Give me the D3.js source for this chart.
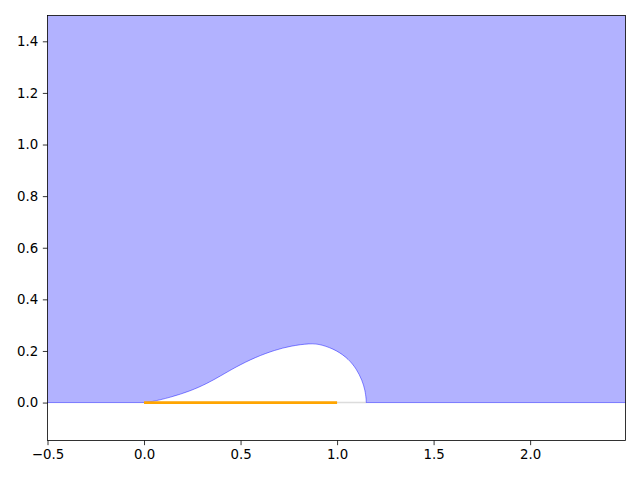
<!DOCTYPE html>
<html><head><meta charset="utf-8">
<script src="https://cdn.jsdelivr.net/npm/d3@7"></script>
<style>body{margin:0;background:#fff}svg text{font-family:"DejaVu Sans",sans-serif;font-size:13.33px;fill:#000}</style>
</head><body><svg id="c" width="640" height="480"></svg>
<script>
// Bubble contour (x, y)
const bubbleX = [0.0, 0.034, 0.137, 0.241, 0.327, 0.396, 0.473, 0.577, 0.680, 0.758, 0.861, 0.920, 1.000, 1.060, 1.100, 1.130, 1.145, 1.151, 1.151];
const bubbleY = [0.0, 0.002, 0.020, 0.045, 0.074, 0.103, 0.137, 0.176, 0.204, 0.219, 0.230, 0.225, 0.202, 0.168, 0.131, 0.086, 0.048, 0.012, 0.0];
const plateX = [0.0, 1.0];
const plateY = [0.0, 0.0];
const baseX = [0.0, 1.151];
const xTicks = [-0.5, 0.0, 0.5, 1.0, 1.5, 2.0];
const yTicks = [0.0, 0.2, 0.4, 0.6, 0.8, 1.0, 1.2, 1.4];
const xDomain = [-0.5, 2.494];
const yDomain = [-0.147, 1.5];

const svg = d3.select("#c");
const L = 47.5, R = 625.5, T = 15.5, B = 440.5;
const x = d3.scaleLinear().domain(xDomain).range([L, R]);
const y = d3.scaleLinear().domain(yDomain).range([B, T]);

svg.append("defs").append("clipPath").attr("id","clip")
  .append("rect").attr("x",L).attr("y",T).attr("width",R-L).attr("height",B-T);
const g = svg.append("g").attr("clip-path","url(#clip)");

const line = d3.line().x(d=>x(d[0])).y(d=>y(d[1])).curve(d3.curveLinear);
const bubblePath = d3.line().x(d=>x(d[0])).y(d=>y(d[1])).curve(d3.curveBasis)(bubbleX.map((v,i)=>[v,bubbleY[i]]));
const dFill = "M" + x(-1) + "," + y(0) + "L" + bubblePath.slice(1) +
  "L" + x(3) + "," + y(0) + "L" + x(3) + "," + y(2) + "L" + x(-1) + "," + y(2) + "Z";

// light grey base line under bubble
g.append("line").attr("x1",x(baseX[0])).attr("x2",x(baseX[1])).attr("y1",y(0)).attr("y2",y(0))
  .attr("stroke","#dcdcdc").attr("stroke-width",1.5);

g.append("path").attr("d", dFill).attr("fill","rgba(0,0,255,0.3)").attr("stroke","rgba(0,0,255,0.45)").attr("stroke-width",1);

// orange plate
g.append("path").attr("d", line(plateX.map((v,i)=>[v,plateY[i]])))
  .attr("stroke","orange").attr("stroke-width",2.7).attr("fill","none").attr("stroke-linecap","butt");

// axes
const fmt = d => d3.format(".1f")(d).replace("-", "\u2212");
const xa = svg.append("g").attr("transform",`translate(0,${B})`).call(d3.axisBottom(x).tickValues(xTicks).tickFormat(fmt).tickSizeOuter(0).tickSize(4.67).tickPadding(4.67));
const ya = svg.append("g").attr("transform",`translate(${L},0)`).call(d3.axisLeft(y).tickValues(yTicks).tickFormat(fmt).tickSizeOuter(0).tickSize(4.67).tickPadding(4.67));
[xa, ya].forEach(a=>{a.select(".domain").remove(); a.selectAll("line").attr("stroke","#000").attr("stroke-width",0.8); a.selectAll("text").attr("font-family",null).attr("font-size",null);});
svg.append("rect").attr("x",L).attr("y",T).attr("width",R-L).attr("height",B-T).attr("fill","none").attr("stroke","#000").attr("stroke-width",0.8);
</script></body></html>
